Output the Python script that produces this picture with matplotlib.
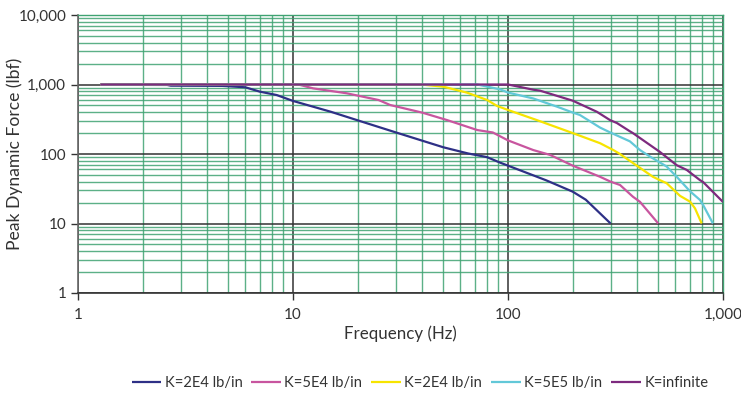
import matplotlib
matplotlib.use("Agg")
import matplotlib.pyplot as plt
from matplotlib.ticker import FixedLocator, FuncFormatter, NullFormatter, LogLocator

# ---- data ----
labels = ["K=2E4 lb/in", "K=5E4 lb/in", "K=2E4 lb/in", "K=5E5 lb/in", "K=infinite"]
colors = ["#2E3086", "#C8559F", "#F7E400", "#62C8D8", "#7D2A7E"]

f_k2e4 = [1.27, 2.6, 2.7, 4.7, 6, 7, 8.4, 10, 15, 20, 30, 50, 65, 80, 92, 100, 150, 200, 230, 300]
F_k2e4 = [990, 985, 962, 955, 912, 790, 705, 580, 405, 305, 205, 125, 102, 90, 75, 68, 42, 28.7, 22, 10]

f_k5e4 = [1.27, 10, 10.8, 12.4, 17.8, 25, 28.3, 40, 52, 72, 85, 100, 131, 157, 200, 268, 300, 332, 381, 411, 500]
F_k5e4 = [1000, 1000, 985, 880, 747, 598, 507, 393, 308, 221, 204, 157, 114, 97, 68, 47, 40, 35.8, 24.3, 20.5, 10]

f_k2e4b = [1.27, 40, 50, 64.5, 80, 89, 100, 136, 200, 268, 309, 330, 383, 472, 509, 547, 631, 703, 741, 796]
F_k2e4b = [1000, 995, 930, 763, 598, 491, 430, 308, 200, 143, 114, 101, 73.5, 47, 42, 38, 25, 20.6, 16.5, 10]

f_k5e5 = [1.27, 72, 92, 100, 131, 169, 200, 216, 268, 298, 369, 411, 457, 547, 609, 703, 782, 808, 898]
F_k5e5 = [1000, 1000, 850, 765, 630, 480, 395, 364, 240, 205, 152, 114, 92, 66, 47, 29, 21.8, 18.5, 10]

f_kinf = [1.27, 100, 131, 141, 200, 259, 298, 321, 369, 381, 509, 609, 678, 782, 808, 1000]
F_kinf = [1000, 1000, 842, 815, 585, 405, 308, 279, 212, 200, 107, 69, 59, 42, 39.5, 20.4]

series_f = [f_k2e4, f_k5e4, f_k2e4b, f_k5e5, f_kinf]
series_F = [F_k2e4, F_k5e4, F_k2e4b, F_k5e5, F_kinf]

x_ticks = [1, 10, 100, 1000]
y_ticks = [1, 10, 100, 1000, 10000]

# ---- figure ----
plt.rcParams['font.family'] = ['Lato', 'DejaVu Sans']
fig = plt.figure(figsize=(7.41, 3.98), dpi=100)
ax = fig.add_axes([78/741, 1-293/398, (723-78)/741, (293-15)/398])

ax.set_xscale('log')
ax.set_yscale('log')
ax.set_xlim(1, 1000)
ax.set_ylim(1, 10000)

# grid
ax.xaxis.set_minor_locator(LogLocator(base=10, subs=range(2, 10)))
ax.yaxis.set_minor_locator(LogLocator(base=10, subs=range(2, 10)))
ax.grid(True, which='minor', color='#3FA372', linewidth=1.0, alpha=0.85)
ax.grid(True, which='major', color='#333333', linewidth=1.1)
ax.set_axisbelow(True)

for fx, Fy, c, lab in zip(series_f, series_F, colors, labels):
    ax.plot(fx, Fy, color=c, linewidth=1.6, label=lab, solid_capstyle='butt')

fmt = FuncFormatter(lambda v, p: f"{int(round(v)):,}")
ax.xaxis.set_major_locator(FixedLocator(x_ticks))
ax.yaxis.set_major_locator(FixedLocator(y_ticks))
ax.xaxis.set_major_formatter(fmt)
ax.yaxis.set_major_formatter(fmt)
ax.xaxis.set_minor_formatter(NullFormatter())
ax.yaxis.set_minor_formatter(NullFormatter())

ax.tick_params(axis='both', which='major', labelsize=11, color='#333333', length=5, width=1, labelcolor='#333333')
ax.tick_params(axis='x', which='major', pad=6)
ax.tick_params(axis='both', which='minor', length=0)

for s in ['top', 'right']:
    ax.spines[s].set_color('#3FA372')
    ax.spines[s].set_linewidth(1.0)
ax.spines['left'].set_color('#666666')
ax.spines['bottom'].set_color('#333333')
ax.spines['left'].set_linewidth(1.2)
ax.spines['bottom'].set_linewidth(1.2)

ax.set_xlabel("Frequency (Hz)", fontsize=12.2, color='#333333', labelpad=2)
ax.set_ylabel("Peak Dynamic Force (lbf)", fontsize=12.6, color='#333333')
ax.yaxis.set_label_coords(-0.085, 0.5)

leg = fig.legend(loc='center', bbox_to_anchor=(420/741, 1-383/398), ncol=5, frameon=False,
                 fontsize=10.6, handlelength=2.0, handletextpad=0.25, columnspacing=0.6,
                 labelcolor='#333333')

fig.savefig("out.png", dpi=100)
